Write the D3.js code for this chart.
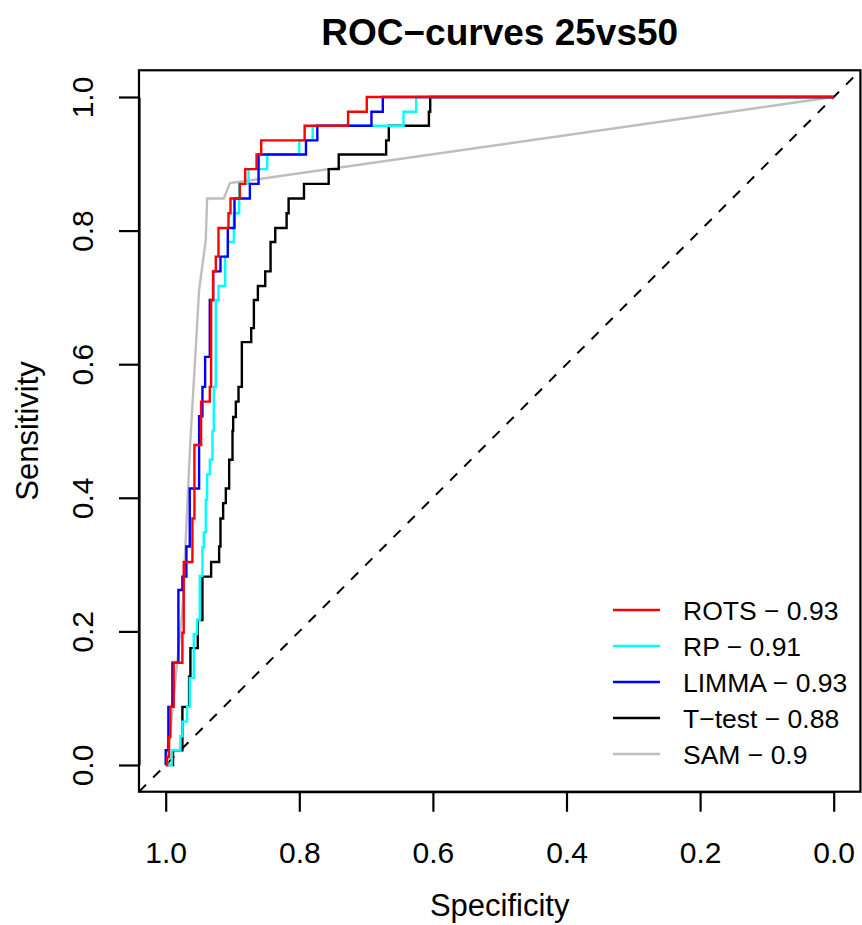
<!DOCTYPE html>
<html>
<head>
<meta charset="utf-8">
<script src="https://cdn.jsdelivr.net/npm/d3@7"></script>
<style>
  body { margin: 0; background: #fff; }
  text { font-family: "Liberation Sans", Arial, Helvetica, sans-serif; }
</style>
</head>
<body>
<svg id="chart"></svg>
<script>
var width = 862;
var height = 925;

// ROC curves (specificity, sensitivity vertices)
var rotsSpec = [1.000, 0.998, 0.998, 0.995, 0.995, 0.993, 0.993, 0.988, 0.988, 0.983, 0.983, 0.975, 0.975, 0.973, 0.973, 0.960, 0.960, 0.957, 0.957, 0.947, 0.947, 0.934, 0.934, 0.932, 0.932, 0.929, 0.929, 0.925, 0.925, 0.921, 0.921, 0.906, 0.906, 0.903, 0.903, 0.889, 0.889, 0.881, 0.881, 0.864, 0.864, 0.857, 0.857, 0.792, 0.792, 0.727, 0.727, 0.699, 0.699, 0.000];
var rotsSens = [0.000, 0.000, 0.012, 0.012, 0.042, 0.042, 0.087, 0.087, 0.153, 0.153, 0.153, 0.153, 0.198, 0.198, 0.304, 0.304, 0.369, 0.369, 0.479, 0.479, 0.544, 0.544, 0.566, 0.566, 0.696, 0.696, 0.739, 0.739, 0.761, 0.761, 0.804, 0.804, 0.826, 0.826, 0.848, 0.848, 0.870, 0.870, 0.892, 0.892, 0.914, 0.914, 0.935, 0.935, 0.957, 0.957, 0.978, 0.978, 1.000, 1.000];

var rpSpec = [1.000, 0.991, 0.991, 0.978, 0.978, 0.975, 0.975, 0.968, 0.968, 0.964, 0.964, 0.958, 0.958, 0.953, 0.953, 0.949, 0.949, 0.945, 0.945, 0.943, 0.943, 0.940, 0.940, 0.938, 0.938, 0.934, 0.934, 0.930, 0.930, 0.928, 0.928, 0.925, 0.925, 0.921, 0.921, 0.917, 0.917, 0.911, 0.911, 0.907, 0.907, 0.898, 0.898, 0.890, 0.890, 0.876, 0.876, 0.848, 0.848, 0.800, 0.800, 0.780, 0.780, 0.644, 0.644, 0.625, 0.625, 0.000];
var rpSens = [0.000, 0.000, 0.022, 0.022, 0.043, 0.043, 0.065, 0.065, 0.087, 0.087, 0.130, 0.130, 0.196, 0.196, 0.217, 0.217, 0.283, 0.283, 0.326, 0.326, 0.348, 0.348, 0.397, 0.397, 0.435, 0.435, 0.457, 0.457, 0.500, 0.500, 0.566, 0.566, 0.696, 0.696, 0.717, 0.717, 0.717, 0.717, 0.761, 0.761, 0.783, 0.783, 0.826, 0.826, 0.870, 0.870, 0.892, 0.892, 0.914, 0.914, 0.935, 0.935, 0.957, 0.957, 0.978, 0.978, 1.000, 1.000];

var limmaSpec = [1.000, 1.000, 0.996, 0.996, 0.990, 0.990, 0.981, 0.981, 0.975, 0.975, 0.969, 0.969, 0.964, 0.964, 0.950, 0.950, 0.945, 0.945, 0.941, 0.941, 0.934, 0.934, 0.929, 0.929, 0.918, 0.918, 0.907, 0.907, 0.897, 0.897, 0.874, 0.874, 0.861, 0.861, 0.790, 0.790, 0.773, 0.773, 0.692, 0.692, 0.675, 0.675, 0.000];
var limmaSens = [0.000, 0.022, 0.022, 0.087, 0.087, 0.153, 0.153, 0.262, 0.262, 0.282, 0.282, 0.327, 0.327, 0.414, 0.414, 0.522, 0.522, 0.566, 0.566, 0.611, 0.611, 0.696, 0.696, 0.739, 0.739, 0.761, 0.761, 0.804, 0.804, 0.848, 0.848, 0.870, 0.870, 0.914, 0.914, 0.935, 0.935, 0.957, 0.957, 0.978, 0.978, 1.000, 1.000];

var ttestSpec = [1.000, 0.989, 0.989, 0.975, 0.975, 0.965, 0.965, 0.963, 0.963, 0.952, 0.952, 0.945, 0.945, 0.932, 0.932, 0.920, 0.920, 0.918, 0.918, 0.914, 0.914, 0.910, 0.910, 0.905, 0.905, 0.900, 0.900, 0.899, 0.899, 0.895, 0.895, 0.891, 0.891, 0.886, 0.886, 0.872, 0.872, 0.868, 0.868, 0.862, 0.862, 0.851, 0.851, 0.843, 0.843, 0.836, 0.836, 0.819, 0.819, 0.816, 0.816, 0.793, 0.793, 0.756, 0.756, 0.741, 0.741, 0.670, 0.670, 0.666, 0.666, 0.606, 0.606, 0.604, 0.604, 0.000];
var ttestSens = [0.000, 0.000, 0.022, 0.022, 0.087, 0.087, 0.132, 0.132, 0.175, 0.175, 0.217, 0.217, 0.282, 0.282, 0.304, 0.304, 0.327, 0.327, 0.369, 0.369, 0.392, 0.392, 0.414, 0.414, 0.457, 0.457, 0.500, 0.500, 0.521, 0.521, 0.544, 0.544, 0.566, 0.566, 0.633, 0.633, 0.654, 0.654, 0.696, 0.696, 0.717, 0.717, 0.739, 0.739, 0.783, 0.783, 0.804, 0.804, 0.826, 0.826, 0.848, 0.848, 0.870, 0.870, 0.892, 0.892, 0.914, 0.914, 0.935, 0.935, 0.957, 0.957, 0.978, 0.978, 1.000, 1.000];

var samSpec = [0.998, 0.975, 0.963, 0.950, 0.940, 0.938, 0.913, 0.904, 0.000];
var samSens = [0.000, 0.232, 0.487, 0.711, 0.786, 0.848, 0.848, 0.871, 1.000];

var methods = ["ROTS", "RP", "LIMMA", "T-test", "SAM"];
var aucs = ["0.93", "0.91", "0.93", "0.88", "0.9"];
var colors = ["#ff0000", "#00ffff", "#0000ff", "#000000", "#bebebe"];
var xTicks = [1.0, 0.8, 0.6, 0.4, 0.2, 0.0];
var yTicks = [0.0, 0.2, 0.4, 0.6, 0.8, 1.0];

var curves = [
  {name: "ROTS", spec: rotsSpec, sens: rotsSens},
  {name: "RP", spec: rpSpec, sens: rpSens},
  {name: "LIMMA", spec: limmaSpec, sens: limmaSens},
  {name: "T-test", spec: ttestSpec, sens: ttestSens},
  {name: "SAM", spec: samSpec, sens: samSens}
];

var x = d3.scaleLinear().domain([1, 0]).range([165.7, 833.7]);
var y = d3.scaleLinear().domain([0, 1]).range([765, 97]);

var svg = d3.select('#chart')
  .attr('width', width)
  .attr('height', height);

// diagonal reference line
svg.append('line')
  .attr('x1', x(1.04)).attr('y1', y(-0.04))
  .attr('x2', x(-0.04)).attr('y2', y(1.04))
  .attr('stroke', '#000')
  .attr('stroke-width', 2)
  .attr('stroke-dasharray', '10,10');

var line = d3.line()
  .x(d => x(d[0]))
  .y(d => y(d[1]));

// draw order: grey first, red on top
var order = ["SAM", "T-test", "RP", "LIMMA", "ROTS"];
order.forEach(function(name) {
  var c = curves.find(d => d.name === name);
  var pts = c.spec.map((s, i) => [s, c.sens[i]]);
  svg.append('path')
    .datum(pts)
    .attr('d', line)
    .attr('fill', 'none')
    .attr('stroke', colors[methods.indexOf(name)])
    .attr('stroke-width', 2.4);
});

// plot box
svg.append('rect')
  .attr('x', x(1.04))
  .attr('y', y(1.04))
  .attr('width', x(-0.04) - x(1.04))
  .attr('height', y(-0.04) - y(1.04))
  .attr('fill', 'none')
  .attr('stroke', '#000')
  .attr('stroke-width', 2.2);

// axes
var xAxis = svg.append('g')
  .attr('transform', 'translate(0,' + y(-0.04) + ')')
  .call(d3.axisBottom(x).tickValues(xTicks).tickFormat(d3.format('.1f')).tickSize(20).tickSizeOuter(0));
xAxis.selectAll('path, line').attr('stroke', '#000').attr('stroke-width', 2.2);
xAxis.selectAll('text')
  .attr('y', 71)
  .attr('dy', 0)
  .attr('font-size', 30)
  .attr('fill', '#000');

var yAxis = svg.append('g')
  .attr('transform', 'translate(' + x(1.04) + ',0)')
  .call(d3.axisLeft(y).tickValues(yTicks).tickFormat(d3.format('.1f')).tickSize(20).tickSizeOuter(0));
yAxis.selectAll('path, line').attr('stroke', '#000').attr('stroke-width', 2.2);
yAxis.selectAll('text')
  .attr('x', 0)
  .attr('dy', 0)
  .attr('text-anchor', 'middle')
  .attr('transform', 'translate(-46,0) rotate(-90)')
  .attr('font-size', 30)
  .attr('fill', '#000');

// titles
svg.append('text')
  .attr('x', (x(1.04) + x(-0.04)) / 2)
  .attr('y', 45)
  .attr('text-anchor', 'middle')
  .attr('font-size', 37)
  .attr('font-weight', 'bold')
  .text('ROC\u2212curves 25vs50');

svg.append('text')
  .attr('x', (x(1.04) + x(-0.04)) / 2)
  .attr('y', 916)
  .attr('text-anchor', 'middle')
  .attr('font-size', 31)
  .text('Specificity');

svg.append('text')
  .attr('transform', 'translate(38,' + (y(-0.04) + y(1.04)) / 2 + ') rotate(-90)')
  .attr('text-anchor', 'middle')
  .attr('font-size', 31)
  .text('Sensitivity');

// legend
var legend = svg.append('g');
methods.forEach(function(m, i) {
  var ly = 610 + i * 36;
  legend.append('line')
    .attr('x1', 613).attr('x2', 660)
    .attr('y1', ly).attr('y2', ly)
    .attr('stroke', colors[i])
    .attr('stroke-width', 2.4);
  legend.append('text')
    .attr('x', 683)
    .attr('y', ly)
    .attr('dy', '0.36em')
    .attr('font-size', 26.5)
    .text(m.replace('-', '\u2212') + ' \u2212 ' + aucs[i]);
});
</script>
</body>
</html>
